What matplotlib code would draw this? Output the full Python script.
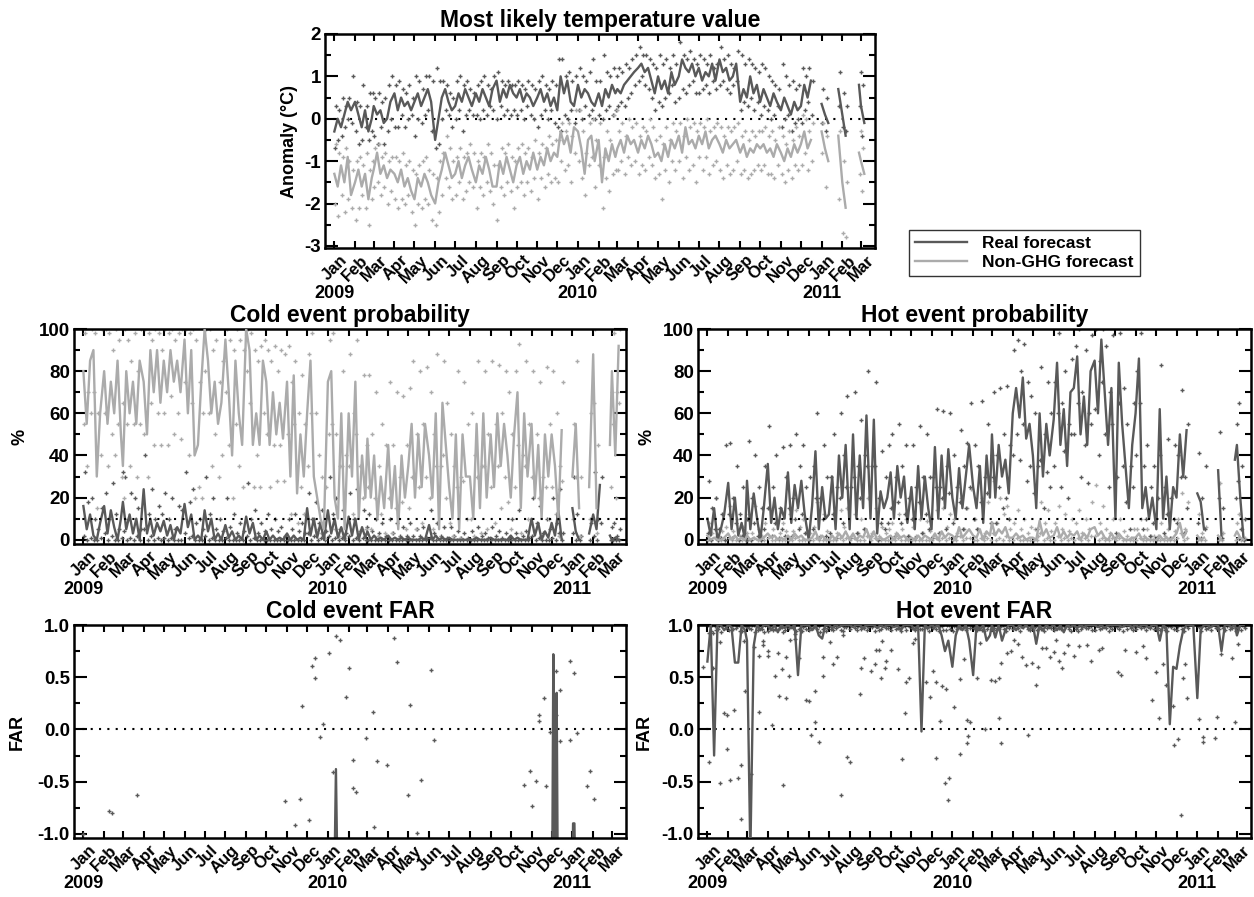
import numpy as np
import matplotlib
matplotlib.use('Agg')
import matplotlib.pyplot as plt
from matplotlib.lines import Line2D
from matplotlib.ticker import MultipleLocator, FormatStrFormatter

plt.rcParams['font.family'] = ['Liberation Sans', 'DejaVu Sans']
plt.rcParams['font.weight'] = 'bold'
plt.rcParams['axes.unicode_minus'] = False

N = None
MONTHS = ['2009-01', '2009-02', '2009-03', '2009-04', '2009-05', '2009-06', '2009-07', '2009-08', '2009-09',
          '2009-10', '2009-11', '2009-12', '2010-01', '2010-02', '2010-03', '2010-04', '2010-05', '2010-06',
          '2010-07', '2010-08', '2010-09', '2010-10', '2010-11', '2010-12', '2011-01', '2011-02', '2011-03']
MONTH_NAMES = ['Jan', 'Feb', 'Mar', 'Apr', 'May', 'Jun', 'Jul', 'Aug', 'Sep', 'Oct', 'Nov', 'Dec'] * 2 + ['Jan', 'Feb', 'Mar']
YEAR_LABELS = {'2009-01': '2009', '2010-01': '2010', '2011-01': '2011'}
STEP = 5  # days between successive forecast values in each monthly row

# ---------------- Most likely temperature value (anomaly, degC) ----------------
TEMP_REAL = [
    [-0.3, 0.0, -0.2, 0.1, 0.4, 0.2], [0.4, 0.1, -0.2, 0.2, -0.3, 0.0], [0.3, 0.1, 0.2, -0.1, 0.0, 0.4],
    [0.6, 0.2, 0.5, 0.3, 0.4, 0.2], [0.4, 0.6, 0.3, 0.5, 0.7, 0.4], [-0.5, 0.0, 0.5, 0.7, 0.4, 0.2],
    [0.3, 0.6, 0.4, 0.7, 0.5, 0.3], [0.6, 0.4, 0.7, 0.5, 0.3, 0.7], [0.9, 0.4, 0.7, 0.5, 0.8, 0.6],
    [0.5, 0.7, 0.4, 0.6, 0.5, 0.3], [0.5, 0.7, 0.4, 0.6, 0.3, 0.5], [0.2, 1.0, 0.6, 0.9, 0.4, 0.3],
    [0.8, 0.5, 0.7, 0.6, 0.4, 0.3], [0.6, 0.3, 0.7, 0.5, 0.8, 0.6], [0.7, 0.6, 0.8, 0.9, 1.0, 1.1],
    [1.2, 1.3, 1.1, 1.2, 0.9, 0.6], [1.0, 0.7, 0.9, 0.6, 1.1, 0.8], [1.0, 1.4, 1.2, 1.1, 1.3, 1.0],
    [1.2, 0.9, 1.1, 1.0, 1.3, 0.9], [1.4, 1.1, 1.2, 0.9, 1.0, 1.3], [0.4, 0.7, 0.5, 1.0, 0.6, 0.8],
    [0.4, 0.7, 0.5, 0.3, 0.6, 0.4], [0.2, 0.5, 0.3, 0.1, 0.4, 0.2], [0.3, 0.8, 0.5, 0.9, N, N],
    [0.35, 0.1, -0.1, N, N, 0.7], [0.1, -0.4, N, N, N, 0.8], [0.3, -0.1, N, N, N, N]]
TEMP_REAL_PTS_HI = [
    [0.3, 0.2, 0.5, 0.3, 0.5, 1.0], [0.4, 0.3, 0.8, 0.3, 0.6, 0.6], [0.5, 0.6, 0.4, 0.5, 0.8, 1.0],
    [0.8, 0.9, 0.7, 0.6, 0.8, 0.5], [1.0, 0.9, 0.7, 1.0, 1.0, 0.9], [1.2, 0.9, 0.9, 0.8, 0.6, 0.5],
    [0.9, 1.0, 0.8, 0.9, 0.7, 0.6], [0.8, 0.9, 1.0, 0.8, 0.7, 1.0], [1.1, 0.9, 0.8, 0.9, 0.8, 0.8],
    [0.9, 0.8, 0.7, 0.9, 0.8, 0.7], [0.9, 1.0, 0.8, 0.7, 0.9, 0.8], [1.4, 1.4, 1.0, 1.1, 0.9, 1.0],
    [1.2, 1.0, 0.9, 1.1, 1.4, 0.9], [0.9, 1.5, 1.1, 1.0, 1.2, 1.0], [1.2, 1.1, 1.3, 1.2, 1.4, 1.5],
    [1.7, 1.5, 1.5, 1.4, 1.3, 1.2], [1.5, 1.3, 1.4, 1.2, 1.5, 1.3], [1.8, 1.5, 1.4, 1.6, 1.4, 1.3],
    [1.5, 1.4, 1.3, 1.5, 1.2, 1.3], [1.7, 1.4, 1.5, 1.3, 1.2, 1.6], [1.5, 1.3, 1.4, 1.3, 1.2, 1.1],
    [1.3, 1.2, 1.0, 0.9, 0.8, 0.7], [1.3, 1.0, 0.8, 0.9, 0.7, 0.8], [1.2, 1.0, 1.2, 0.9, N, N],
    [0.7, 0.5, N, N, N, 1.1], [0.6, 0.3, N, N, N, 1.1], [0.8, N, N, N, N, N]]
TEMP_REAL_PTS_LO = [
    [-0.7, -0.5, -0.4, -0.2, 0.0, -0.1], [-0.3, -0.6, -0.5, -0.2, -0.5, -0.3], [-0.4, -0.6, -0.2, -0.6, -0.3, 0.0],
    [-0.2, -0.2, 0.1, -0.2, 0.0, 0.1], [-0.4, 0.0, -0.1, 0.1, 0.2, -0.3], [-0.7, -0.6, 0.0, 0.2, 0.1, -0.2],
    [0.0, 0.2, -0.3, 0.1, 0.2, 0.1], [0.1, 0.0, 0.2, 0.1, 0.3, 0.2], [0.0, 0.3, 0.1, 0.2, 0.1, 0.2],
    [0.1, 0.2, 0.0, 0.3, 0.1, 0.0], [-0.2, 0.1, 0.2, 0.0, 0.2, -0.1], [-0.2, -0.3, 0.1, 0.0, 0.2, -0.1],
    [0.2, 0.0, 0.3, 0.1, 0.2, 0.0], [0.1, 0.0, 0.2, 0.3, 0.1, 0.2], [0.3, 0.4, 0.3, 0.5, 0.6, 0.8],
    [0.9, 1.0, 0.8, 0.7, 0.5, 0.2], [0.4, 0.3, 0.5, 0.6, 0.8, 0.4], [0.5, 0.7, 0.6, 0.8, 0.9, 0.6],
    [0.6, 0.7, 0.8, 0.6, 0.9, 0.7], [0.8, 0.9, 0.7, 0.6, 0.8, 0.9], [0.2, 0.4, 0.3, 0.5, 0.2, 0.4],
    [0.1, 0.3, 0.2, 0.0, 0.1, 0.3], [-0.2, 0.0, 0.1, -0.3, -0.1, 0.0], [-0.1, 0.2, 0.4, 0.1, N, N],
    [-0.1, -0.3, N, N, N, 0.3], [-0.2, -0.3, N, N, N, 0.3], [-0.4, N, N, N, N, N]]
TEMP_NONGHG = [
    [-1.3, -1.6, -1.1, -1.5, -0.9, -1.8], [-1.5, -1.2, -1.6, -1.3, -1.9, -1.4], [-1.2, -0.8, -1.3, -1.1, -1.4, -1.2],
    [-1.3, -1.5, -1.2, -1.6, -1.4, -1.7], [-1.9, -1.4, -1.6, -1.3, -1.5, -1.8], [-2.0, -1.5, -1.2, -0.8, -1.1, -1.4],
    [-1.3, -1.0, -1.4, -1.1, -0.9, -1.2], [-1.5, -1.1, -1.3, -0.9, -1.2, -1.6], [-1.6, -1.0, -1.3, -0.9, -1.2, -1.5],
    [-1.1, -0.9, -1.3, -1.0, -1.2, -0.8], [-1.2, -0.9, -1.1, -0.7, -1.0, -0.8], [-0.9, -0.3, -0.6, -0.4, -0.8, -0.2],
    [-0.3, -0.7, -1.3, -0.5, -0.4, -1.0], [-0.5, -1.5, -0.7, -1.0, -0.6, -0.9], [-0.7, -0.5, -0.8, -0.4, -0.6, -0.5],
    [-0.8, -0.5, -0.7, -0.4, -0.6, -0.9], [-0.8, -1.0, -0.6, -0.9, -0.5, -0.7], [-0.4, -0.8, -0.2, -0.6, -0.5, -0.7],
    [-0.4, -0.6, -0.3, -0.7, -0.5, -0.4], [-0.6, -0.8, -0.5, -0.7, -0.6, -0.5], [-0.8, -0.6, -0.9, -0.7, -0.8, -0.6],
    [-0.7, -0.6, -0.8, -0.7, -0.9, -0.6], [-0.8, -1.0, -0.7, -0.9, -0.6, -0.8], [-0.6, -0.3, -0.7, -0.5, N, N],
    [-0.3, -0.7, -1.0, N, N, -0.4], [-1.5, -2.1, N, N, N, -0.8], [-1.0, -1.3, N, N, N, N]]
TEMP_NONGHG_PTS_HI = [
    [-0.6, -0.8, -0.9, -0.7, -1.0, -1.2], [-1.0, -0.9, -1.1, -0.8, -1.2, -1.0], [-0.7, -0.6, -0.9, -0.8, -1.0, -0.9],
    [-0.9, -1.0, -0.8, -1.1, -1.0, -1.2], [-1.3, -1.1, -1.0, -0.9, -1.2, -1.3], [-1.4, -1.0, -0.8, -0.4, -0.7, -1.0],
    [-0.9, -0.7, -0.9, -0.8, -0.6, -0.8], [-1.0, -0.8, -0.9, -0.6, -0.8, -1.1], [-1.1, -0.7, -0.8, -0.6, -0.9, -1.0],
    [-0.7, -0.6, -0.8, -0.7, -0.9, -0.5], [-0.8, -0.6, -0.7, -0.4, -0.6, -0.5], [-0.5, -0.1, -0.3, -0.1, -0.4, 0.2],
    [0.2, -0.3, -0.8, -0.1, 0.0, -0.5], [-0.1, -0.9, -0.3, -0.5, 0.1, 0.2], [-0.3, -0.1, -0.4, 0.0, -0.2, -0.1],
    [-0.4, -0.2, -0.3, 0.0, -0.2, -0.5], [-0.4, -0.6, -0.2, -0.5, -0.1, -0.3], [-0.1, -0.4, 0.0, -0.2, -0.1, -0.3],
    [-0.1, -0.2, 0.0, -0.3, -0.2, -0.1], [-0.2, -0.4, -0.2, -0.3, -0.2, -0.1], [-0.4, -0.3, -0.5, -0.3, -0.4, -0.3],
    [-0.3, -0.2, -0.4, -0.3, -0.5, -0.2], [-0.4, -0.6, -0.3, -0.5, -0.2, -0.4], [0.1, 0.0, -0.3, -0.1, N, N],
    [-0.1, -0.4, N, N, N, -0.3], [-1.0, -1.5, N, N, N, -0.3], [-0.7, N, N, N, N, N]]
TEMP_NONGHG_PTS_LO = [
    [-2.0, -2.3, -1.8, -2.2, -1.9, -2.1], [-2.4, -2.1, -1.8, -2.1, -2.5, -1.9], [-1.6, -1.5, -1.8, -1.6, -2.0, -1.7],
    [-1.9, -2.1, -1.9, -2.0, -1.8, -2.2], [-2.5, -2.0, -2.1, -1.9, -2.0, -2.4], [-2.5, -2.2, -1.8, -1.4, -1.6, -1.9],
    [-1.8, -1.5, -1.9, -1.7, -1.5, -1.6], [-2.1, -1.6, -1.8, -1.5, -1.7, -2.0], [-2.4, -1.6, -1.8, -1.5, -1.7, -2.1],
    [-1.6, -1.5, -1.8, -1.5, -1.7, -1.4], [-1.9, -1.4, -1.6, -1.3, -1.5, -1.4], [-1.5, -1.0, -1.2, -1.1, -1.5, -0.8],
    [-1.0, -1.4, -1.8, -1.1, -0.9, -1.6], [-1.1, -2.1, -1.4, -1.7, -1.3, -1.2], [-1.2, -1.0, -1.3, -0.9, -1.1, -1.0],
    [-1.3, -1.1, -1.2, -0.9, -1.1, -1.4], [-1.3, -1.9, -1.2, -1.5, -1.0, -1.2], [-1.0, -1.4, -0.9, -1.2, -1.1, -1.5],
    [-0.9, -1.2, -0.9, -1.3, -1.1, -1.0], [-1.2, -1.4, -1.1, -1.3, -1.2, -1.0], [-1.3, -1.2, -1.4, -1.3, -1.2, -1.1],
    [-1.2, -1.1, -1.3, -1.3, -1.4, -1.1], [-1.3, -1.5, -1.2, -1.4, -1.1, -1.2], [-1.1, -0.8, -1.2, -1.0, N, N],
    [-0.8, -1.6, N, N, N, -1.9], [-2.7, -2.8, N, N, N, -1.3], [-1.7, N, N, N, N, N]]

# ---------------- Cold event probability (%) ----------------
COLD_NONGHG = [
    [80, 55, 85, 90, 30, 60], [80, 55, 75, 60, 85, 50], [35, 80, 60, 75, 55, 85],
    [75, 50, 90, 70, 90, 65], [85, 70, 90, 75, 85, 70], [95, 60, 90, 40, 45, 75],
    [100, 85, 60, 75, 55, 65], [95, 70, 40, 85, 60, 45], [100, 90, 45, 60, 45, 85],
    [75, 45, 70, 50, 65, 48], [75, 30, 78, 22, 50, 30], [60, 85, 30, 20, 10, 5],
    [75, 80, 20, 10, 60, 5], [60, 30, 75, 10, 40, 20], [48, 20, 40, 10, 30, 15],
    [45, 15, 35, 5, 40, 20], [35, 55, 20, 50, 25, 55], [40, 20, 60, 5, 65, 45],
    [25, 10, 50, 5, 50, 30], [30, 10, 55, 15, 60, 20], [50, 25, 60, 35, 55, 40],
    [20, 50, 70, 15, 60, 30], [55, 20, 45, 10, 50, 30], [50, 35, 10, 52, N, N],
    [30, 55, 15, N, N, 25], [88, 15, N, N, N, 45], [80, 40, 92, N, N, N]]
COLD_NONGHG_PTS_HI = [
    [98, 70, 100, 98, 60, 100], [100, 98, 90, 100, 95, 65], [100, 95, 85, 98, 80, 100],
    [100, 98, 95, 100, 98, 90], [100, 98, 100, 95, 98, 100], [100, 98, 100, 95, 75, 60],
    [100, 100, 90, 95, 75, 85], [100, 95, 90, 100, 95, 90], [100, 98, 90, 85, 92, 95],
    [90, 85, 92, 80, 90, 88], [92, 75, 85, 60, 78, 55], [88, 98, 60, 40, 30, 25],
    [95, 98, 50, 35, 80, 40], [88, 60, 95, 35, 78, 45], [78, 50, 70, 35, 55, 45],
    [75, 45, 70, 30, 68, 45], [72, 85, 50, 80, 55, 82], [70, 50, 88, 35, 85, 65],
    [50, 35, 80, 30, 75, 55], [60, 40, 85, 35, 80, 50], [85, 55, 83, 60, 80, 70],
    [50, 80, 93, 40, 85, 55], [80, 50, 75, 30, 82, 55], [80, 60, 35, 75, N, N],
    [55, 85, 30, N, N, 60], [100, 45, N, N, N, 70], [98, 70, 100, N, N, N]]
COLD_NONGHG_PTS_LO = [
    [55, 35, 60, 70, 15, 40], [60, 35, 50, 40, 55, 30], [20, 55, 35, 55, 30, 55],
    [50, 30, 65, 45, 60, 45], [60, 45, 68, 50, 60, 48], [75, 40, 65, 20, 25, 20],
    [80, 60, 35, 50, 30, 40], [70, 45, 20, 55, 35, 25], [80, 65, 25, 40, 25, 60],
    [50, 25, 45, 28, 45, 28], [50, 12, 55, 8, 25, 12], [35, 60, 10, 5, 3, 1],
    [50, 55, 5, 2, 35, 1], [35, 12, 50, 3, 20, 5], [25, 5, 20, 2, 12, 3],
    [20, 3, 15, 1, 18, 5], [15, 30, 5, 25, 8, 30], [20, 5, 35, 1, 40, 20],
    [8, 2, 25, 1, 28, 10], [10, 2, 30, 3, 35, 5], [25, 8, 35, 15, 30, 18],
    [5, 25, 45, 3, 35, 10], [30, 5, 20, 2, 25, 10], [25, 12, 2, 28, N, N],
    [10, 30, 2, N, N, 10], [65, 3, N, N, N, 25], [55, 20, 65, N, N, N]]
COLD_REAL = [
    [16, 5, 12, 2, 0, 8], [16, 3, 14, 6, 0, 10], [18, 5, 12, 3, 10, 0],
    [24, 3, 10, 2, 8, 4], [9, 2, 7, 0, 6, 3], [17, 6, 12, 0, 2, 0],
    [14, 4, 10, 0, 3, 0], [7, 1, 4, 0, 2, 0], [11, 3, 8, 0, 2, 0],
    [4, 0, 2, 0, 1, 0], [3, 0, 2, 0, 1, 0], [15, 2, 10, 1, 8, 0],
    [14, 3, 10, 1, 6, 0], [11, 2, 10, 0, 6, 1], [4, 0, 2, 0, 1, 0],
    [2, 0, 1, 0, 1, 0], [1, 0, 0, 0, 1, 0], [7, 0, 2, 0, 1, 0],
    [1, 0, 0, 0, 0, 0], [0, 0, 1, 0, 0, 0], [1, 0, 0, 0, 0, 0],
    [2, 0, 1, 0, 0, 0], [10, 2, 8, 0, 4, 1], [8, 2, 14, 0, N, N],
    [15, 4, 0, N, N, 3], [12, 5, 26, N, N, 2], [0, 1, 0, N, N, N]]
COLD_REAL_PTS_HI = [
    [32, 18, 20, 10, 5, 15], [22, 10, 27, 12, 5, 32], [30, 10, 22, 20, 15, 5],
    [40, 12, 24, 10, 16, 12], [22, 10, 20, 5, 16, 14], [32, 18, 24, 8, 10, 5],
    [30, 12, 20, 5, 10, 4], [20, 6, 12, 3, 8, 4], [27, 10, 14, 3, 8, 4],
    [12, 5, 10, 4, 6, 2], [10, 5, 12, 4, 8, 3], [22, 10, 18, 8, 14, 4],
    [30, 12, 20, 5, 14, 3], [22, 10, 24, 4, 14, 6], [12, 4, 10, 3, 8, 2],
    [10, 3, 8, 2, 6, 2], [8, 2, 5, 2, 6, 1], [14, 3, 8, 2, 6, 1],
    [6, 2, 4, 1, 3, 1], [4, 1, 6, 2, 3, 1], [6, 2, 4, 1, 3, 1],
    [10, 3, 14, 2, 4, 1], [20, 8, 16, 3, 10, 5], [20, 8, 24, 3, N, N],
    [30, 12, 2, N, N, 8], [32, 10, 30, N, N, 6], [8, 2, 5, N, N, N]]
COLD_REAL_PTS_LO = [
    [2, 0, 1, 0, 0, 1], [3, 0, 2, 0, 0, 1], [4, 0, 1, 0, 2, 0],
    [5, 0, 2, 0, 1, 0], [1, 0, 1, 0, 0, 0], [3, 1, 2, 0, 0, 0],
    [2, 0, 1, 0, 0, 0], [1, 0, 0, 0, 0, 0], [2, 0, 1, 0, 0, 0],
    [0, 0, 0, 0, 0, 0], [0, 0, 0, 0, 0, 0], [3, 0, 2, 0, 1, 0],
    [2, 0, 1, 0, 1, 0], [2, 0, 1, 0, 1, 0], [0, 0, 0, 0, 0, 0],
    [0, 0, 0, 0, 0, 0], [0, 0, 0, 0, 0, 0], [1, 0, 0, 0, 0, 0],
    [0, 0, 0, 0, 0, 0], [0, 0, 0, 0, 0, 0], [0, 0, 0, 0, 0, 0],
    [0, 0, 0, 0, 0, 0], [2, 0, 1, 0, 0, 0], [1, 0, 3, 0, N, N],
    [3, 0, 0, N, N, 0], [2, 0, 8, N, N, 0], [0, 0, 0, N, N, N]]

# ---------------- Hot event probability (%) ----------------
HOT_REAL = [
    [10, 2, 15, 0, 5, 12], [27, 5, 20, 2, 8, 0], [28, 5, 22, 10, 0, 15],
    [36, 8, 20, 5, 15, 10], [32, 8, 26, 15, 28, 12], [0, 16, 42, 5, 25, 10],
    [12, 30, 5, 40, 20, 45], [5, 50, 10, 40, 15, 59], [10, 57, 3, 23, 15, 20],
    [32, 10, 35, 20, 30, 8], [25, 5, 35, 10, 30, 15], [5, 44, 10, 40, 15, 43],
    [20, 10, 34, 15, 30, 45], [25, 15, 35, 8, 40, 20], [50, 20, 45, 30, 38, 22],
    [60, 72, 58, 77, 48, 55], [40, 15, 60, 30, 55, 40], [57, 84, 45, 62, 35, 70],
    [72, 87, 50, 68, 45, 80], [85, 60, 95, 70, 45, 72], [10, 84, 55, 35, 15, 45],
    [60, 86, 15, 25, 10, 20], [5, 62, 10, 30, 5, 25], [20, 50, 30, 52, N, N],
    [22, 18, 5, N, N, N], [33, 2, N, N, N, 38], [45, 20, 0, N, N, N]]
HOT_REAL_PTS_HI = [
    [28, 15, 20, 5, 12, 45], [46, 20, 35, 12, 25, 10], [47, 20, 40, 25, 15, 35],
    [54, 25, 40, 15, 44, 30], [45, 20, 50, 35, 45, 25], [30, 35, 60, 20, 45, 30],
    [30, 50, 25, 60, 40, 68], [25, 70, 35, 57, 40, 80], [35, 75, 20, 42, 30, 45],
    [50, 30, 55, 35, 45, 20], [45, 25, 54, 30, 50, 30], [30, 62, 25, 61, 35, 60],
    [40, 25, 52, 35, 46, 65], [45, 35, 66, 30, 55, 40], [70, 40, 72, 50, 73, 45],
    [90, 95, 80, 93, 75, 68], [60, 35, 82, 50, 75, 60], [75, 98, 65, 80, 55, 86],
    [92, 100, 70, 90, 60, 97], [100, 85, 100, 92, 70, 97], [30, 98, 72, 55, 35, 65],
    [80, 98, 35, 45, 25, 35], [20, 83, 25, 48, 20, 45], [40, 71, 30, 55, N, N],
    [41, 20, 35, N, N, N], [51, 15, N, N, N, 55], [65, 35, 10, N, N, N]]
HOT_REAL_PTS_LO = [
    [3, 0, 5, 0, 1, 0], [12, 1, 8, 0, 2, 0], [10, 0, 8, 2, 0, 5],
    [15, 2, 8, 1, 5, 2], [15, 2, 10, 5, 12, 3], [0, 5, 20, 1, 10, 2],
    [3, 12, 1, 20, 8, 25], [1, 30, 3, 20, 5, 35], [2, 35, 0, 8, 5, 8],
    [15, 2, 18, 8, 12, 2], [10, 1, 18, 3, 12, 5], [1, 25, 3, 20, 5, 22],
    [8, 2, 18, 5, 15, 25], [10, 5, 18, 2, 22, 8], [30, 8, 25, 15, 20, 10],
    [40, 50, 38, 55, 28, 35], [22, 5, 38, 15, 32, 25], [35, 60, 25, 42, 20, 50],
    [50, 65, 30, 45, 27, 55], [62, 40, 75, 50, 25, 55], [3, 65, 35, 18, 5, 25],
    [40, 65, 5, 10, 2, 8], [1, 40, 3, 12, 1, 10], [8, 30, 3, 15, N, N],
    [8, 1, 5, N, N, N], [20, 1, N, N, N, 20], [28, 5, 0, N, N, N]]
HOT_NONGHG = [
    [2, 0, 1, 0, 0, 1], [3, 0, 2, 0, 1, 0], [2, 0, 1, 0, 0, 1],
    [3, 1, 2, 0, 1, 0], [2, 0, 3, 1, 2, 0], [0, 1, 4, 0, 2, 0],
    [0, 2, 0, 3, 1, 4], [0, 3, 0, 2, 1, 5], [0, 4, 0, 1, 0, 1],
    [2, 0, 3, 1, 2, 0], [1, 0, 2, 0, 2, 1], [0, 3, 0, 4, 1, 3],
    [2, 0, 6, 1, 3, 5], [2, 1, 5, 0, 4, 2], [8, 2, 5, 3, 6, 1],
    [1, 3, 1, 2, 0, 1], [1, 0, 9, 2, 5, 1], [2, 6, 1, 4, 1, 3],
    [2, 4, 0, 3, 1, 5], [6, 2, 4, 1, 0, 3], [0, 3, 1, 0, 0, 1],
    [1, 3, 0, 1, 0, 0], [0, 2, 0, 1, 0, 1], [3, 8, 1, 4, N, N],
    [2, 0, 1, N, N, N], [2, 0, N, N, N, 2], [4, 1, 0, N, N, N]]
HOT_NONGHG_PTS_HI = [
    [8, 3, 20, 2, 4, 6], [16, 4, 10, 2, 6, 3], [12, 3, 16, 5, 2, 8],
    [15, 5, 10, 3, 8, 4], [12, 4, 14, 6, 10, 3], [3, 6, 18, 2, 12, 4],
    [2, 10, 3, 14, 6, 15], [2, 12, 3, 10, 5, 20], [3, 15, 2, 6, 3, 5],
    [8, 3, 12, 5, 10, 2], [6, 2, 10, 3, 9, 4], [2, 14, 3, 15, 6, 12],
    [10, 3, 20, 5, 15, 24], [10, 5, 20, 3, 18, 8], [28, 8, 20, 12, 16, 5],
    [8, 14, 5, 10, 3, 6], [5, 2, 18, 8, 14, 4], [8, 16, 5, 12, 4, 10],
    [8, 14, 3, 10, 5, 18], [26, 8, 16, 5, 3, 10], [2, 10, 4, 2, 1, 5],
    [5, 10, 2, 5, 2, 2], [2, 8, 2, 5, 1, 4], [10, 22, 5, 18, N, N],
    [12, 3, 6, N, N, N], [27, 3, N, N, N, 8], [12, 5, 1, N, N, N]]
HOT_NONGHG_PTS_LO = [
    [0, 0, 1, 0, 0, 0], [1, 0, 0, 0, 0, 0], [0, 0, 1, 0, 0, 0],
    [1, 0, 0, 0, 0, 0], [0, 0, 1, 0, 0, 0], [0, 0, 1, 0, 0, 0],
    [0, 0, 0, 1, 0, 1], [0, 1, 0, 0, 0, 2], [0, 1, 0, 0, 0, 0],
    [0, 0, 1, 0, 0, 0], [0, 0, 0, 0, 0, 0], [0, 1, 0, 1, 0, 1],
    [0, 0, 2, 0, 1, 1], [0, 0, 1, 0, 1, 0], [3, 0, 1, 0, 2, 0],
    [0, 1, 0, 0, 0, 0], [0, 0, 3, 0, 1, 0], [0, 2, 0, 1, 0, 1],
    [0, 1, 0, 1, 0, 2], [2, 0, 1, 0, 0, 1], [0, 1, 0, 0, 0, 0],
    [0, 1, 0, 0, 0, 0], [0, 0, 0, 0, 0, 0], [1, 3, 0, 1, N, N],
    [0, 0, 0, N, N, N], [0, 0, N, N, N, 0], [1, 0, 0, N, N, N]]

# ---------------- Cold event FAR ----------------
COLD_FAR_LINE_DAYS = [375, 377, 379, N, 700, 701.5, 703, N, 705, 706.5, 708, N, 730, 731, 733, 734]
COLD_FAR_LINE_VALS = [-1.3, -0.38, -1.3, N, -1.3, 0.72, -1.3, N, -1.3, 0.35, -1.3, N, -1.3, -0.9, -0.9, -1.3]
COLD_FAR_PT_DAYS = [0, 38, 42, 80, 301, 316, 323, 327, 337, 341, 346, 346, 353, 358, 367, 372, 377, 383,
                    392, 397, 402, 403, 407, 422, 432, 434, 438, 453, 463, 468, 484, 488, 498, 504, 519, 524,
                    657, 666, 670, 676, 680, 680, 687, 691, 697, 706, 706, 711, 712, 727, 727, 733, 737, 752,
                    757, 762]
COLD_FAR_PT_VALS = [-1.0, -0.78, -0.80, -0.63, -0.69, -0.92, -0.67, 0.22, -0.87, 0.61, 0.68, 0.49, -0.07,
                    0.05, 0.73, -0.41, 0.89, 0.86, 0.31, 0.59, -0.29, -0.56, -0.60, -0.08, 0.17, -0.93, -0.30,
                    -0.34, 0.88, 0.65, -0.63, 0.23, -0.99, -0.48, 0.57, -0.10, -0.53, -0.40, -0.73, -0.49,
                    0.14, 0.08, 0.30, -0.54, -0.02, 0.56, 0.14, 0.38, -0.11, -0.10, 0.66, 0.54, -0.03, -0.54,
                    -0.40, -0.67]

# ---------------- Hot event FAR ----------------
HOT_FAR = [
    [0.65, 1.0, -0.25, 1.0, 1.0, 0.95], [1.0, 0.98, 0.64, 0.64, 1.0, 0.95], [0.85, -1.2, 0.8, 1.0, 0.95, 1.0],
    [1.0, 0.95, 1.0, 0.93, 1.0, 0.97], [1.0, 0.97, 1.0, 0.52, 1.0, 1.0], [1.0, 0.95, 1.0, 0.9, 0.87, 1.0],
    [1.0, 0.97, 1.0, 0.98, 1.0, 1.0], [1.0, 0.98, 1.0, 1.0, 0.97, 1.0], [1.0, 1.0, 0.97, 1.0, 0.98, 1.0],
    [1.0, 0.98, 1.0, 0.95, 1.0, 1.0], [1.0, 0.95, 1.0, -0.02, 1.0, 0.97], [1.0, 0.98, 1.0, 0.9, 0.75, 0.85],
    [0.6, 0.9, 1.0, 0.95, 1.0, 0.85], [0.52, 1.0, 0.95, 1.0, 0.85, 0.9], [1.0, 0.88, 1.0, 0.85, 0.95, 1.0],
    [1.0, 0.95, 1.0, 0.97, 1.0, 0.95], [1.0, 0.82, 1.0, 0.95, 1.0, 0.97], [1.0, 0.95, 1.0, 0.93, 1.0, 0.98],
    [1.0, 0.97, 1.0, 0.98, 1.0, 1.0], [1.0, 0.98, 1.0, 0.97, 1.0, 1.0], [1.0, 1.0, 0.98, 1.0, 1.0, 0.98],
    [1.0, 0.98, 1.0, 1.0, 0.97, 1.0], [1.0, 0.85, 1.0, 0.97, 0.05, 0.6], [0.58, 0.8, 0.95, 1.0, 1.0, 1.0],
    [0.3, 0.95, 1.0, 1.0, 0.98, 1.0], [1.0, 0.75, 1.0, 1.0, 0.98, 1.0], [0.9, 1.0, 1.0, N, N, N]]
HOT_FAR_PTS_HI = [
    [0.92, 1.0, 0.95, 0.99, 1.0, 0.97], [1.0, 0.96, 0.99, 0.94, 1.0, 0.98], [0.97, 1.0, 0.93, 0.99, 0.96, 1.0],
    [0.98, 0.95, 1.0, 0.97, 0.93, 0.99], [1.0, 0.97, 0.94, 1.0, 0.98, 0.96], [0.99, 1.0, 0.96, 0.93, 1.0, 0.97],
    [0.96, 0.99, 1.0, 0.95, 0.98, 1.0], [1.0, 0.97, 0.99, 0.96, 1.0, 0.98], [0.98, 1.0, 0.95, 0.99, 0.97, 1.0],
    [0.99, 0.96, 1.0, 0.98, 0.95, 0.99], [1.0, 0.98, 0.96, 1.0, 0.97, 0.99], [0.97, 1.0, 0.99, 0.95, 1.0, 0.96],
    [0.99, 0.96, 1.0, 0.98, 0.97, 1.0], [1.0, 0.98, 0.95, 1.0, 0.99, 0.96], [0.97, 1.0, 0.98, 0.96, 1.0, 0.99],
    [1.0, 0.97, 0.99, 1.0, 0.96, 0.98], [0.98, 1.0, 0.96, 0.99, 1.0, 0.97], [0.99, 0.97, 1.0, 0.98, 0.96, 1.0],
    [0.96, 1.0, 0.98, 0.97, 0.99, 0.95], [1.0, 0.96, 0.99, 0.97, 0.98, 1.0], [0.98, 0.99, 1.0, 0.96, 0.97, 0.99],
    [1.0, 0.97, 0.98, 1.0, 0.99, 0.96], [0.97, 1.0, 0.95, 0.99, 0.98, 1.0], [0.99, 0.96, 1.0, 0.97, N, N],
    [0.98, 1.0, 0.96, 0.99, 1.0, 0.97], [1.0, 0.97, 0.99, 0.96, 1.0, 0.98], [0.99, 1.0, 0.97, N, N, N]]
HOT_FAR_PTS_MID = [
    [1.0, 0.94, 0.99, 0.96, 0.93, 1.0], [0.95, 1.0, 0.97, 1.0, 0.94, 0.99], [1.0, 0.96, 1.0, 0.95, 1.0, 0.93],
    [0.94, 1.0, 0.96, 1.0, 0.98, 0.95], [0.97, 0.99, 1.0, 0.96, 0.94, 1.0], [0.95, 0.97, 1.0, 0.99, 0.96, 0.94],
    [1.0, 0.95, 0.97, 1.0, 0.94, 0.98], [0.96, 1.0, 0.95, 0.99, 0.97, 0.95], [1.0, 0.94, 0.99, 0.96, 1.0, 0.97],
    [0.95, 1.0, 0.97, 0.94, 0.99, 1.0], [0.97, 0.95, 1.0, 0.96, 0.99, 0.94], [1.0, 0.96, 0.94, 0.99, 0.95, 1.0],
    [0.94, 0.99, 0.97, 1.0, 0.95, 0.97], [0.97, 0.95, 1.0, 0.94, 0.96, 1.0], [0.99, 0.95, 0.96, 1.0, 0.94, 0.97],
    [0.96, 1.0, 0.94, 0.98, 1.0, 0.95], [1.0, 0.95, 0.99, 0.94, 0.97, 1.0], [0.95, 1.0, 0.96, 1.0, 0.99, 0.94],
    [1.0, 0.94, 0.96, 1.0, 0.97, 0.99], [0.95, 0.99, 0.97, 1.0, 0.94, 0.96], [1.0, 0.96, 0.94, 1.0, 0.99, 0.95],
    [0.96, 1.0, 0.99, 0.95, 0.97, 1.0], [1.0, 0.95, 0.98, 0.94, 1.0, 0.96], [0.95, 1.0, 0.94, 0.99, N, N],
    [1.0, 0.94, 0.99, 0.97, 0.95, 1.0], [0.96, 1.0, 0.95, 1.0, 0.97, 0.94], [1.0, 0.95, 0.99, N, N, N]]
HOT_FAR_PT_DAYS = [-6, 3, 9, 9, 19, 19, 25, 29, 29, 34, 39, 45, 50, 50, 56, 55, 65, 70, 77, 77, 83, 83, 91, 91,
                   96, 100, 105, 106, 111, 112, 117, 117, 121, 123, 130, 130, 136, 147, 152, 155, 161, 161, 167,
                   172, 172, 182, 187, 193, 199, 202, 208, 213, 223, 228, 229, 234, 244, 249, 251, 255, 259, 260,
                   265, 266, 274, 284, 290, 295, 296, 300, 307, 310, 326, 331, 336, 341, 341, 346, 350, 354, 356,
                   360, 358, 367, 377, 377, 383, 387, 392, 387, 388, 402, 406, 414, 423, 428, 434, 434, 438, 438,
                   447, 453, 457, 463, 469, 474, 478, 483, 489, 493, 499, 505, 511, 516, 520, 524, 529, 532, 538,
                   546, 554, 565, 571, 583, 588, 612, 617, 622, 638, 649, 653, 663, 668, 673, 679, 684, 694, 695,
                   701, 706, 709, 715, 712, 733, 739, 739, 757, 760, 766, 782, 786, 790]
HOT_FAR_PT_VALS = [0.60, -0.31, 0.59, 0.92, 0.84, -0.51, 0.16, 0.14, -0.19, -0.48, 0.19, -0.47, -0.34, -0.86,
                   0.37, 0.85, -0.43, 0.79, 0.17, 0.70, 0.81, 0.85, 0.75, 0.70, 0.04, 0.51, 0.73, 0.32, 0.58,
                   -0.53, 0.30, 0.69, 0.51, 0.86, 0.87, 0.91, 0.68, 0.28, 0.27, -0.05, 0.07, 0.37, -0.12, 0.51,
                   0.69, 0.84, 0.63, 0.69, -0.63, 0.90, -0.26, -0.31, 0.99, 0.34, 0.59, 0.68, 0.56, 0.63, 0.76,
                   0.76, 0.49, 0.85, 0.59, 0.66, 0.76, 0.58, -0.28, 0.16, 0.45, 0.49, 0.83, 0.87, 0.45, 0.31,
                   0.56, 0.45, -0.27, 0.08, 0.42, -0.51, 0.39, -0.47, -0.68, 0.21, -0.24, 0.48, 0.67, 0.09,
                   0.07, -0.13, -0.06, 0.49, 0.83, 0.00, 0.47, 0.46, 0.49, 0.11, 0.64, -0.13, 0.73, 0.75, 0.86,
                   0.82, 0.69, 0.62, -0.05, 0.64, 0.43, 0.60, 0.78, 0.78, 0.69, 0.74, 0.86, 0.66, 0.59, 0.73,
                   0.81, 0.70, 0.80, 0.81, 0.66, 0.76, 0.78, 0.55, 0.52, 0.76, 0.74, 0.80, 0.68, 0.28, 0.55,
                   0.11, 0.63, 0.43, 0.22, -0.15, -0.09, -0.82, 0.49, 0.30, 0.63, 0.10, -0.07, -0.12, -0.08,
                   0.12, 0.72, 0.68, 0.07, 0.82]

# ---------------- drawing ----------------
DARK = '#595959'
LIGHT = '#ababab'
MONTH_DAY = [int((np.datetime64(m + '-01') - np.datetime64('2009-01-01')).astype(int)) for m in MONTHS]
XLIM = (-14, 810)
W, H = 1254, 897
TICK_FS = 13.5
MONTH_FS = 12
YEAR_FS = 13
TITLE_FS = 16.5


def rows_xy(rows, offset=0.0):
    xs, ys = [], []
    for d0, row in zip(MONTH_DAY, rows):
        for j, v in enumerate(row):
            xs.append(d0 + STEP * j + offset)
            ys.append(np.nan if v is None else v)
    return np.array(xs, float), np.array(ys, float)


def to_arr(vals):
    return np.array([np.nan if v is None else v for v in vals], float)


def add_axes(x0, y0, x1, y1):
    return fig.add_axes([x0 / W, 1 - y1 / H, (x1 - x0) / W, (y1 - y0) / H])


def style(ax, ylim, major, minor, fmt, title, ylabel, ylabel_x):
    ax.set_xlim(*XLIM)
    ax.set_ylim(*ylim)
    ax.set_xticks(MONTH_DAY)
    ax.set_xticklabels([])
    ax.tick_params(axis='x', which='major', direction='in', top=True, bottom=True, length=5, width=1.5)
    ax.yaxis.set_major_locator(MultipleLocator(major))
    ax.yaxis.set_minor_locator(MultipleLocator(minor))
    ax.yaxis.set_major_formatter(FormatStrFormatter(fmt))
    ax.tick_params(axis='y', which='major', direction='in', left=True, right=True, length=9, width=1.5,
                   labelsize=TICK_FS, pad=3)
    ax.tick_params(axis='y', which='minor', direction='in', left=True, right=True, length=4.5, width=1.5)
    for lab in ax.get_yticklabels():
        lab.set_fontweight('bold')
    for s in ax.spines.values():
        s.set_linewidth(1.8)
    for d, name in zip(MONTH_DAY, MONTH_NAMES):
        ax.annotate(name, xy=(d, 0), xycoords=('data', 'axes fraction'), xytext=(4, -3),
                    textcoords='offset points', rotation=45, ha='right', va='top',
                    rotation_mode='anchor', fontsize=MONTH_FS, fontweight='bold')
    for d, m in zip(MONTH_DAY, MONTHS):
        if m in YEAR_LABELS:
            ax.annotate(YEAR_LABELS[m], xy=(d, 0), xycoords=('data', 'axes fraction'), xytext=(0, -33),
                        textcoords='offset points', ha='center', va='center', fontsize=YEAR_FS,
                        fontweight='bold')
    ax.set_title(title, fontsize=TITLE_FS, fontweight='bold', pad=5)
    ax.set_ylabel(ylabel, fontsize=13, fontweight='bold')
    ax.yaxis.set_label_coords(ylabel_x, 0.5)


def pts(ax, rows, color, offset=2.5):
    x, y = rows_xy(rows, offset)
    ax.plot(x, y, ls='none', marker='+', ms=3.4, mew=1.0, color=color, zorder=2)


def line(ax, rows, color):
    x, y = rows_xy(rows)
    ax.plot(x, y, color=color, lw=1.7, zorder=3)


fig = plt.figure(figsize=(12.54, 8.97), dpi=100)

# Top panel
ax = add_axes(325, 34, 875, 248)
pts(ax, TEMP_REAL_PTS_HI, DARK)
pts(ax, TEMP_REAL_PTS_LO, DARK, 1.0)
pts(ax, TEMP_NONGHG_PTS_HI, LIGHT)
pts(ax, TEMP_NONGHG_PTS_LO, LIGHT, 1.0)
line(ax, TEMP_REAL, DARK)
line(ax, TEMP_NONGHG, LIGHT)
ax.axhline(0, color='black', ls=(0, (1, 3)), lw=1.5, zorder=1)
style(ax, (-3.05, 2.0), 1, 0.5, '%d', 'Most likely temperature value', 'Anomaly (\u00b0C)', -0.05)

# Cold probability
ax = add_axes(74, 329, 626, 544)
pts(ax, COLD_REAL_PTS_HI, DARK)
pts(ax, COLD_REAL_PTS_LO, DARK, 1.0)
pts(ax, COLD_NONGHG_PTS_HI, LIGHT)
pts(ax, COLD_NONGHG_PTS_LO, LIGHT, 1.0)
line(ax, COLD_REAL, DARK)
line(ax, COLD_NONGHG, LIGHT)
ax.axhline(10, color='black', ls=(0, (1, 3)), lw=1.5, zorder=4)
style(ax, (-2, 100), 20, 10, '%d', 'Cold event probability', '%', -0.083)

# Hot probability
ax = add_axes(698, 329, 1251, 544)
pts(ax, HOT_NONGHG_PTS_HI, LIGHT)
pts(ax, HOT_NONGHG_PTS_LO, LIGHT, 1.0)
pts(ax, HOT_REAL_PTS_HI, DARK)
pts(ax, HOT_REAL_PTS_LO, DARK, 1.0)
line(ax, HOT_REAL, DARK)
line(ax, HOT_NONGHG, LIGHT)
ax.axhline(10, color='black', ls=(0, (1, 3)), lw=1.5, zorder=4)
style(ax, (-2, 100), 20, 10, '%d', 'Hot event probability', '%', -0.077)

# Cold FAR
ax = add_axes(74, 625, 626, 838)
ax.plot(COLD_FAR_PT_DAYS, COLD_FAR_PT_VALS, ls='none', marker='+', ms=3.4, mew=1.0, color=DARK)
ax.plot(to_arr(COLD_FAR_LINE_DAYS), to_arr(COLD_FAR_LINE_VALS), color=DARK, lw=1.7)
ax.axhline(0, color='black', ls=(0, (1, 3)), lw=1.5, zorder=1)
style(ax, (-1.04, 1.0), 0.5, 0.25, '%.1f', 'Cold event FAR', 'FAR', -0.088)

# Hot FAR
ax = add_axes(698, 625, 1251, 838)
pts(ax, HOT_FAR_PTS_HI, DARK)
pts(ax, HOT_FAR_PTS_MID, DARK, 1.0)
ax.plot(HOT_FAR_PT_DAYS, HOT_FAR_PT_VALS, ls='none', marker='+', ms=3.4, mew=1.0, color=DARK)
line(ax, HOT_FAR, DARK)
ax.axhline(0, color='black', ls=(0, (1, 3)), lw=1.5, zorder=1)
style(ax, (-1.04, 1.0), 0.5, 0.25, '%.1f', 'Hot event FAR', 'FAR', -0.082)

handles = [Line2D([], [], color=DARK, lw=1.7), Line2D([], [], color=LIGHT, lw=1.7)]
leg = fig.legend(handles, ['Real forecast', 'Non-GHG forecast'], loc='upper left',
                 bbox_to_anchor=(900 / W, 1 - 221 / H), frameon=True, fancybox=False,
                 edgecolor='black', prop={'weight': 'bold', 'size': 12.5}, handlelength=3.0,
                 borderpad=0.35, labelspacing=0.25, handletextpad=0.9)
leg.get_frame().set_linewidth(1.0)

fig.savefig('out.png', dpi=100)
